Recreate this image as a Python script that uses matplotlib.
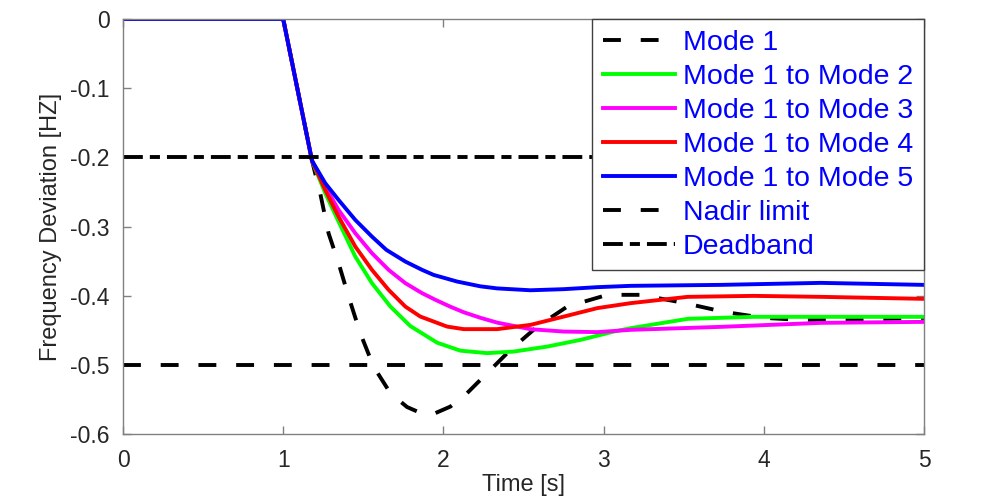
import matplotlib
matplotlib.use("Agg")
import matplotlib.pyplot as plt
from matplotlib.ticker import FixedLocator, FuncFormatter

plt.rcParams['font.family'] = ['Liberation Sans', 'DejaVu Sans']

# ---- data ----
t_common = [0.0, 1.0, 1.18]
v_common = [0.0, 0.0, -0.205]

t_mode1 = [1.231, 1.283, 1.3456, 1.408, 1.481, 1.564, 1.669, 1.773, 1.877, 1.93, 2.044, 2.148,
           2.252, 2.419, 2.586, 2.773, 3.023, 3.231, 3.50, 3.75, 4.00, 4.231, 4.481, 4.775, 5.0]
v_mode1 = [-0.2519, -0.3097, -0.353, -0.4013, -0.4542, -0.5025, -0.5409, -0.561, -0.5715, -0.5718,
           -0.5603, -0.5409, -0.5169, -0.4783, -0.4447, -0.4158, -0.3988, -0.3988, -0.4104,
           -0.4234, -0.4321, -0.435, -0.435, -0.4335, -0.4321]

t_m2 = [1.2625, 1.3456, 1.45, 1.554, 1.669, 1.794, 1.961, 2.106, 2.273, 2.439, 2.648, 2.856,
        3.064, 3.169, 3.525, 3.9375, 4.356, 5.0]
v_m2 = [-0.2519, -0.2929, -0.3435, -0.3819, -0.4157, -0.444, -0.468, -0.4795, -0.4831, -0.4808,
        -0.4736, -0.4639, -0.4519, -0.447, -0.4335, -0.4306, -0.4306, -0.4306]

t_m3 = [1.2625, 1.3456, 1.45, 1.554, 1.658, 1.7625, 1.867, 1.95, 2.044, 2.127, 2.231, 2.336,
        2.544, 2.752, 2.961, 3.169, 3.731, 4.356, 5.0]
v_m3 = [-0.2423, -0.276, -0.3097, -0.3386, -0.3627, -0.3819, -0.3964, -0.406, -0.416, -0.424,
        -0.432, -0.439, -0.4485, -0.4519, -0.4527, -0.4494, -0.4451, -0.4393, -0.4379]

t_m4 = [1.2625, 1.3456, 1.45, 1.554, 1.658, 1.7625, 1.856, 2.023, 2.127, 2.336, 2.544, 2.752,
        2.961, 3.169, 3.525, 3.9375, 4.356, 5.0]
v_m4 = [-0.2471, -0.2857, -0.329, -0.3627, -0.3916, -0.4158, -0.4302, -0.4447, -0.4484, -0.4484,
        -0.4422, -0.4302, -0.418, -0.4108, -0.4017, -0.4003, -0.4017, -0.4046]

t_m5 = [1.2625, 1.3456, 1.45, 1.554, 1.644, 1.7625, 1.867, 1.939, 2.086, 2.231, 2.336, 2.544,
        2.752, 2.961, 3.169, 3.731, 4.356, 5.0]
v_m5 = [-0.2374, -0.2616, -0.2905, -0.3146, -0.3338, -0.3507, -0.3627, -0.370, -0.3796, -0.3865,
        -0.3895, -0.3922, -0.3906, -0.3877, -0.3858, -0.3844, -0.3815, -0.3844]

nadir_limit = -0.5
deadband = -0.2

labels = ["Mode 1", "Mode 1 to Mode 2", "Mode 1 to Mode 3", "Mode 1 to Mode 4",
          "Mode 1 to Mode 5", "Nadir limit", "Deadband"]
x_ticks = [0, 1, 2, 3, 4, 5]
y_ticks = [0, -0.1, -0.2, -0.3, -0.4, -0.5, -0.6]
x_label = "Time [s]"
y_label = "Frequency Deviation [HZ]"

# ---- figure ----
fig = plt.figure(figsize=(10.05, 5.0), dpi=100)
ax = fig.add_axes([123/1005, 1-434/500, (924-123)/1005, (434-19)/500])

lw = 2.8
dash = (4.6, 5.1)
dashdot = (5.1, 1.8, 2.6, 1.8)

h1, = ax.plot(t_common + t_mode1, v_common + v_mode1, color='black', lw=lw, dashes=dash)
h2, = ax.plot(t_common + t_m2, v_common + v_m2, color='#00FF00', lw=lw)
h3, = ax.plot(t_common + t_m3, v_common + v_m3, color='#FF00FF', lw=lw)
h4, = ax.plot(t_common + t_m4, v_common + v_m4, color='#FF0000', lw=lw)
h5, = ax.plot(t_common + t_m5, v_common + v_m5, color='#0000FF', lw=lw)
h6 = ax.axhline(nadir_limit, color='black', lw=lw, dashes=dash)
h7 = ax.axhline(deadband, color='black', lw=lw, dashes=dashdot)

ax.set_xlim(0, 5)
ax.set_ylim(-0.6, 0)
ax.xaxis.set_major_locator(FixedLocator(x_ticks))
ax.yaxis.set_major_locator(FixedLocator(y_ticks))
ax.xaxis.set_major_formatter(FuncFormatter(lambda v, p: f"{v:g}"))
ax.yaxis.set_major_formatter(FuncFormatter(lambda v, p: "0" if abs(v) < 1e-9 else f"{v:g}"))

spine_c = '#808080'
for s in ax.spines.values():
    s.set_color(spine_c)
    s.set_linewidth(1.0)
ax.tick_params(direction='in', length=6, width=1.0, color=spine_c,
               top=True, right=True, labelsize=16.5, labelcolor='#262626')
ax.tick_params(axis='x', pad=10.5)
ax.tick_params(axis='y', pad=9.5)

ax.set_xlabel(x_label, fontsize=17, color='#262626', labelpad=2)
ax.set_ylabel(y_label, fontsize=17, color='#262626', labelpad=6)

leg = ax.legend([h1, h2, h3, h4, h5, h6, h7], labels, loc='upper right',
                bbox_to_anchor=(1.0, 1.0), borderaxespad=0.0, fontsize=20.5,
                handlelength=2.53, handletextpad=0.28, labelspacing=0.28,
                borderpad=0.38, fancybox=False, framealpha=1.0, edgecolor='#404040')
leg.get_frame().set_linewidth(1.0)
for txt in leg.get_texts():
    txt.set_color('#0000FF')

fig.savefig("out.png", dpi=100)
